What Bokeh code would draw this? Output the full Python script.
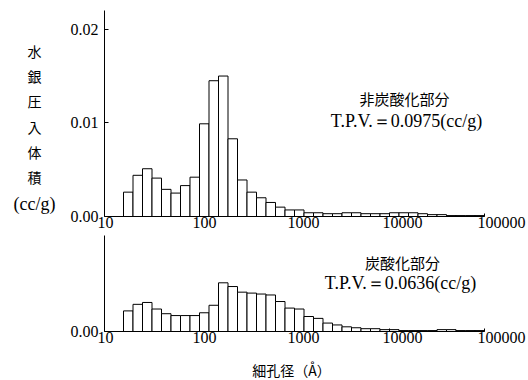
from bokeh.plotting import figure
from bokeh.layouts import column, row
from bokeh.models import (Range1d, FixedTicker, Label, PrintfTickFormatter, LogAxis,
                          CustomJSTickFormatter)
from bokeh.embed import file_html
from bokeh.resources import INLINE

# ---- data ----
# lower edge of each pore-diameter bin, log10(Å); each bin is 0.1 decade wide
bin_log_lo = [1.2, 1.3, 1.4, 1.5, 1.6, 1.7, 1.8, 1.9,
              2.0, 2.1, 2.2, 2.3, 2.4, 2.5, 2.6, 2.7, 2.8, 2.9,
              3.0, 3.1, 3.2, 3.3, 3.4, 3.5, 3.6, 3.7, 3.8, 3.9,
              4.0, 4.1, 4.2, 4.3, 4.4, 4.5, 4.6, 4.7, 4.8, 4.9]
bin_log_width = 0.1

non_carbonated = [0.0026, 0.0044, 0.0051, 0.0041, 0.0029, 0.0025, 0.0033, 0.0042,
                  0.0099, 0.0145, 0.0150, 0.0083, 0.0039, 0.0026, 0.0020, 0.0015, 0.0010, 0.0007,
                  0.0007, 0.0004, 0.0004, 0.0003, 0.0003, 0.0004, 0.0004, 0.0003, 0.0003, 0.0003,
                  0.0004, 0.0004, 0.0004, 0.0003, 0.0002, 0.0002, 0.0001, 0.0001, 0.0001, 0.0001]

carbonated = [0.0022, 0.0029, 0.0031, 0.0024, 0.0019, 0.0017, 0.0017, 0.0017,
              0.0020, 0.0028, 0.0052, 0.0048, 0.0042, 0.0041, 0.0040, 0.0039, 0.0032, 0.0025,
              0.0024, 0.0016, 0.0014, 0.0009, 0.0007, 0.0005, 0.0004, 0.0003, 0.0003, 0.0002,
              0.0002, 0.0001, 0.0001, 0.0001, 0.0001, 0.0002, 0.0002, 0.0001, 0.0001, 0.0001]

x_ticks = [10, 100, 1000, 10000, 100000]
x_tick_labels = ["10", "100", "1000", "10000", "100000"]
top_y_ticks = [0.0, 0.01, 0.02]
bottom_y_ticks = [0.0]

top_title = "非炭酸化部分"
top_tpv = "T.P.V.＝0.0975(cc/g)"
bottom_title = "炭酸化部分"
bottom_tpv = "T.P.V.＝0.0636(cc/g)"
y_label_parts = ["水", "銀", "圧", "入", "体", "積", "(cc/g)"]
x_label = "細孔径（Å）"

SERIF = "Liberation Serif"
CJK = "Noto Sans CJK JP"

left_edges = [10 ** v for v in bin_log_lo]
right_edges = [10 ** (v + bin_log_width) for v in bin_log_lo]

PX_PER_DECADE = 95
FRAME_W = 424           # frame runs on past 100000 so the last tick label has room
X_START = x_ticks[0]
X_END = X_START * 10 ** (FRAME_W / PX_PER_DECADE)
# the printed tick labels start ~7px left of their tick; with 16px digits (8px wide)
# the centre of a label of n digits sits at tick + 4n - 7 px
label_ticks = [t * 10 ** ((4 * len(s) - 7) / PX_PER_DECADE) for t, s in zip(x_ticks, x_tick_labels)]


def blank_strip(w, h):
    f = figure(frame_width=w, frame_height=h, min_border=0,
               x_range=Range1d(0, 1), y_range=Range1d(0, 1),
               x_axis_location=None, y_axis_location=None,
               toolbar_location=None, output_backend="svg")
    f.grid.visible = False
    f.outline_line_color = None
    f.background_fill_color = "white"
    f.border_fill_color = "white"
    return f


def make_panel(vals, y_max, y_ticks, frame_h, b_top, b_bottom):
    p = figure(x_axis_type="log", x_range=Range1d(X_START, X_END), y_range=Range1d(0, y_max),
               frame_width=FRAME_W, frame_height=frame_h,
               min_border_left=44, min_border_right=0,
               min_border_top=b_top, min_border_bottom=b_bottom,
               toolbar_location=None, output_backend="svg")
    p.quad(left=left_edges, right=right_edges, bottom=0, top=vals,
           fill_color="white", line_color="black", line_width=1)
    p.grid.visible = False
    p.outline_line_color = None
    p.background_fill_color = "white"
    p.border_fill_color = "white"

    xa = p.xaxis[0]
    xa.ticker = FixedTicker(ticks=x_ticks, minor_ticks=[])
    xa.bounds = (x_ticks[0], x_ticks[-1])
    xa.major_label_text_font_size = "1px"
    xa.major_label_text_color = None
    xa.major_label_standoff = 0
    xa.major_tick_in = 3
    xa.major_tick_out = 0
    xa.axis_line_color = "black"
    xa.major_tick_line_color = "black"
    xa.minor_tick_line_color = None

    lab = LogAxis(ticker=FixedTicker(ticks=label_ticks, minor_ticks=[]),
                  formatter=CustomJSTickFormatter(
                      code="return String(Math.round(Math.pow(10, Math.round(Math.log10(tick)))));"),
                  major_tick_in=0, major_tick_out=0, minor_tick_line_color=None,
                  major_tick_line_color=None, axis_line_color=None,
                  major_label_standoff=0,
                  major_label_text_font=SERIF, major_label_text_font_size="16px",
                  major_label_text_color="black")
    p.add_layout(lab, "below")

    ya = p.yaxis[0]
    ya.ticker = FixedTicker(ticks=y_ticks, minor_ticks=[])
    ya.formatter = PrintfTickFormatter(format="%.2f")
    ya.major_label_text_font = SERIF
    ya.major_label_text_font_size = "16px"
    ya.major_label_text_color = "black"
    ya.major_label_standoff = 6
    ya.major_tick_in = 4
    ya.major_tick_out = 0
    ya.minor_tick_line_color = None
    ya.axis_line_color = "black"
    return p


top = make_panel(non_carbonated, 0.022, top_y_ticks, 206, 10, 18)
bottom = make_panel(carbonated, 0.01025, bottom_y_ticks, 96, 1, 18)


def add_text(p, x, y, s, font, size):
    p.add_layout(Label(x=x, y=y, x_units="screen", y_units="screen", text=s,
                       text_align="center", text_baseline="middle",
                       text_font=font, text_font_size=size, text_color="black"))


# annotations
add_text(top, 300, 118, top_title, CJK, "15px")
add_text(top, 302, 96, top_tpv, SERIF, "18px")
add_text(bottom, 298, 69, bottom_title, CJK, "15px")
add_text(bottom, 296, 49, bottom_tpv, SERIF, "18px")

# strip holding the stacked y-axis title
ystrip = blank_strip(60, 234)
y_label_pos = [184, 159, 134, 108, 83, 58, 31]
for s, yy in zip(y_label_parts, y_label_pos):
    add_text(ystrip, 34, yy, s, SERIF if s.startswith("(") else CJK,
             "18px" if s.startswith("(") else "14px")

# strip holding the x-axis title
xstrip = blank_strip(528, 31)
add_text(xstrip, 291, 11, x_label, CJK, "14px")

layout = column(row(ystrip, column(top, bottom, spacing=0), spacing=0), xstrip, spacing=0)
open("out.html", "w").write(file_html(layout, INLINE))
